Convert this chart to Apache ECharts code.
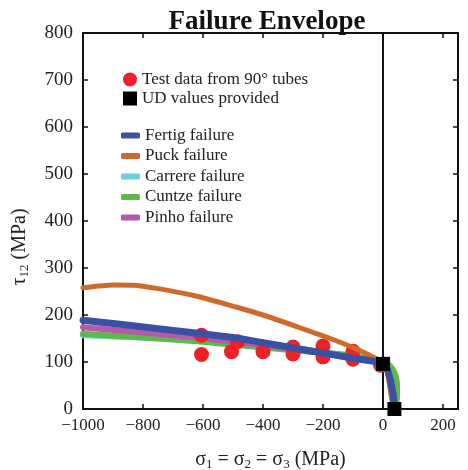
<!DOCTYPE html>
<html>
<head>
<meta charset="utf-8">
<script src="https://cdn.jsdelivr.net/npm/echarts@6/dist/echarts.min.js"></script>
<style>
  html, body { margin: 0; padding: 0; background: #fff; }
  #chart { width: 468px; height: 470px; }
</style>
</head>
<body>
<div id="chart"></div>
<script>
// Axis ranges and ticks
const sigmaRange = [-1000, 250];
const sigmaStep = 200;
const tauRange = [0, 800];
const tauStep = 100;

// Measured failures of 90° tubes (sigma, tau)
const testSigma = [-605, -605, -505, -485, -400, -300, -300, -200, -200, -100, -100, -8];
const testTau   = [157, 116, 122, 143, 122, 132, 117, 134, 111, 123, 106, 93];

// Unidirectional strengths supplied (shear at zero stress, transverse tensile)
const udSigma = [0, 38];
const udTau   = [96, 0];

// Predicted envelopes
const fertigSigma = [-1000, -750, -500, -400, -300, -200, -100, -20, 0, 12, 22, 29, 34, 37, 38];
const fertigTau   = [189, 171, 152, 141, 130, 119, 108, 100, 96, 88, 68, 48, 30, 12, 0];

const puckSigma = [-1000, -900, -820, -730, -620, -490, -400, -290, -180, -90, -20, 0, 10, 17, 22, 27, 31, 34];
const puckTau   = [258, 264, 263, 254, 240, 217, 200, 176, 151, 128, 106, 96, 88, 70, 50, 30, 12, 0];

const carrereSigma = [-1000, -800, -600, -500, -400, -300, -200, -100, 0, 12, 22, 29, 34, 37, 38];
const carrereTau   = [157, 152, 146, 142, 137, 130, 121, 110, 97, 89, 69, 49, 30, 12, 0];

const cuntzeSigma = [-1000, -800, -600, -500, -400, -300, -200, -100, -30, 0, 18, 32, 42, 47, 47, 44, 40];
const cuntzeTau   = [160, 152, 143, 137, 131, 125, 120, 113, 105, 100, 95, 85, 70, 50, 30, 12, 0];

const pinhoSigma = [-1000, -800, -600, -500, -400, -300, -200, -100, 0, 12, 22, 29, 34, 37, 38];
const pinhoTau   = [174, 163, 151, 143, 136, 128, 119, 109, 97, 88, 68, 48, 30, 12, 0];

const pairs = (xs, ys) => xs.map((x, i) => [x, ys[i]]);

const serif = 'Liberation Serif';
const ink = '#111';
const textInk = '#222';

function envelope(name, xs, ys, color, width, z) {
  return {
    name, type: 'line', data: pairs(xs, ys), showSymbol: false, smooth: 0.2,
    lineStyle: { color, width, cap: 'round', join: 'round' },
    itemStyle: { color }, z, silent: true, animation: false
  };
}

const chart = echarts.init(document.getElementById('chart'), null, { renderer: 'canvas' });

const axisLine = { show: true, onZero: false, lineStyle: { color: ink, width: 2 } };
const tick = { show: true, inside: true, length: 5, lineStyle: { color: ink, width: 1.5 } };
const legendText = { fontFamily: serif, fontSize: 17, color: textInk };

chart.setOption({
  animation: false,
  title: {
    text: 'Failure Envelope', left: 262, top: 4, textAlign: 'center',
    textStyle: { fontFamily: serif, fontWeight: 'bold', fontSize: 27, color: ink }
  },
  grid: { left: 83, right: 10, top: 33, bottom: 61, containLabel: false, outerBoundsMode: 'none' },
  legend: [
    {
      data: ['Test data from 90° tubes', 'UD values provided'],
      orient: 'vertical', left: 118, top: 66, itemWidth: 14, itemHeight: 14, itemGap: 2,
      selectedMode: false, textStyle: legendText
    },
    {
      data: ['Fertig failure', 'Puck failure', 'Carrere failure', 'Cuntze failure', 'Pinho failure']
        .map(n => ({ name: n, icon: 'roundRect' })),
      orient: 'vertical', left: 116, top: 122, itemWidth: 19, itemHeight: 6, itemGap: 3.5,
      selectedMode: false, textStyle: legendText
    }
  ],
  xAxis: [
    {
      type: 'value', min: sigmaRange[0], max: sigmaRange[1], interval: sigmaStep, position: 'bottom',
      axisLine, axisTick: tick, splitLine: { show: false },
      axisLabel: { margin: 8, showMaxLabel: false, fontFamily: serif, fontSize: 17, color: textInk,
        formatter: v => String(v).replace('-', '\u2212') },
      name: 'σ{s|1} = σ{s|2} = σ{s|3} (MPa)', nameLocation: 'middle', nameGap: 40,
      nameTextStyle: { fontFamily: serif, fontSize: 20, color: textInk,
        rich: { s: { fontFamily: serif, fontSize: 13, color: textInk, verticalAlign: 'bottom', padding: [9, 0, 0, 0] } } }
    },
    {
      type: 'value', min: sigmaRange[0], max: sigmaRange[1], interval: sigmaStep, position: 'top',
      axisLine, axisTick: tick, axisLabel: { show: false }, splitLine: { show: false }
    }
  ],
  yAxis: [
    {
      type: 'value', min: tauRange[0], max: tauRange[1], interval: tauStep, position: 'left',
      axisLine, axisTick: tick, splitLine: { show: false },
      axisLabel: { margin: 10, fontFamily: serif, fontSize: 19, color: textInk }
    },
    {
      type: 'value', min: tauRange[0], max: tauRange[1], interval: tauStep, position: 'right',
      axisLine, axisTick: tick, axisLabel: { show: false }, splitLine: { show: false }
    }
  ],
  graphic: [
    {
      type: 'text', x: 20, y: 247, rotation: Math.PI / 2,
      style: {
        text: 'τ{s|12} (MPa)', fontFamily: serif, fontSize: 20, fill: textInk,
        align: 'center', verticalAlign: 'middle',
        rich: { s: { fontFamily: serif, fontSize: 13, fill: textInk, padding: [9, 0, 0, 0] } }
      }
    }
  ],
  series: [
    envelope('Carrere failure', carrereSigma, carrereTau, '#6fcde0', 6, 2),
    envelope('Cuntze failure', cuntzeSigma, cuntzeTau, '#5cb94a', 6, 3),
    envelope('Pinho failure', pinhoSigma, pinhoTau, '#b55aa8', 6, 4),
    {
      name: 'Test data from 90° tubes', type: 'scatter', data: pairs(testSigma, testTau),
      symbol: 'circle', symbolSize: 15, itemStyle: { color: '#ee2128', opacity: 1 }, z: 5, silent: true
    },
    envelope('Puck failure', puckSigma, puckTau, '#d06a2b', 5, 6),
    envelope('Fertig failure', fertigSigma, fertigTau, '#3a51a3', 7, 7),
    {
      name: 'UD values provided', type: 'scatter', data: pairs(udSigma, udTau),
      symbol: 'rect', symbolSize: 14, itemStyle: { color: '#000', opacity: 1 }, z: 8, silent: true,
      markLine: {
        silent: true, symbol: 'none', label: { show: false },
        lineStyle: { color: ink, width: 2, type: 'solid' },
        data: [{ xAxis: 0 }]
      }
    }
  ]
});
</script>
</body>
</html>
